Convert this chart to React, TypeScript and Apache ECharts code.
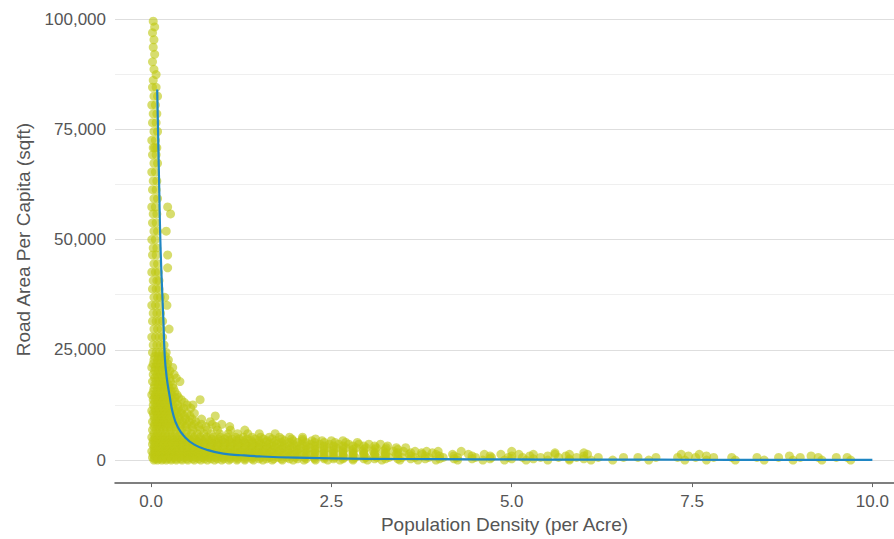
import React, { useEffect, useRef } from "react";
import * as echarts from "echarts";

// Scatter observations, grouped by approximate road-area value (sqft) -> density values (per acre)
const scatterRows: [number, number[]][] = [
  [99500, [0.03]], [98200, [0.05]], [96900, [0.02]], [95300, [0.04]], [93600, [0.03]],
  [92000, [0.05]], [90300, [0.02]], [88600, [0.04]], [87400, [0.07]], [86100, [0.03]],
  [84500, [0.02, 0.07]], [82500, [0.04, 0.09]], [80500, [0.01, 0.06]], [78500, [0.03, 0.08]],
  [76500, [0.02, 0.07]], [74500, [0.04, 0.09]], [72500, [0.01, 0.06]], [70800, [0.03, 0.08, 0.05]],
  [69200, [0.02, 0.07]], [67300, [0.04, 0.09]], [65300, [0.01, 0.06]], [63300, [0.03, 0.08]],
  [61300, [0.02, 0.07]], [59300, [0.04, 0.09]], [57400, [0.01, 0.06, 0.23]], [55800, [0.03, 0.08, 0.27]],
  [53800, [0.02, 0.07]], [51900, [0.04, 0.09, 0.21]], [50000, [0.01, 0.06]], [48100, [0.03, 0.08]],
  [46500, [0.02, 0.07, 0.23]], [44500, [0.04, 0.09]], [43600, [0.23]], [42600, [0.01, 0.06, 0.1]],
  [40700, [0.03, 0.08, 0.11]], [38800, [0.02, 0.07, 0.11]], [36900, [0.04, 0.09, 0.13, 0.19]],
  [35100, [0.01, 0.06, 0.11, 0.22]], [33300, [0.03, 0.08, 0.13]], [31500, [0.02, 0.07, 0.11, 0.16]],
  [29700, [0.04, 0.09, 0.14, 0.25]], [27900, [0.01, 0.06, 0.11, 0.16]], [26100, [0.03, 0.08, 0.13, 0.18]],
  [24400, [0.02, 0.07, 0.11, 0.16, 0.21]], [23500, [0.05, 0.1, 0.15, 0.2]],
  [22700, [0.04, 0.09, 0.14, 0.19, 0.24]], [21800, [0.03, 0.08, 0.13, 0.18, 0.23]],
  [21000, [0.01, 0.06, 0.11, 0.16, 0.22, 0.3]], [20200, [0.05, 0.1, 0.15, 0.2, 0.26]],
  [19400, [0.03, 0.08, 0.13, 0.18, 0.24, 0.32]], [18600, [0.05, 0.1, 0.15, 0.2, 0.26, 0.35]],
  [17800, [0.02, 0.07, 0.11, 0.16, 0.21, 0.27, 0.4]], [17000, [0.05, 0.1, 0.14, 0.19, 0.24, 0.3]],
  [16300, [0.04, 0.09, 0.14, 0.19, 0.25, 0.31]], [15500, [0.03, 0.08, 0.13, 0.18, 0.23, 0.28, 0.33]],
  [14800, [0.01, 0.06, 0.11, 0.16, 0.22, 0.28, 0.36]], [14200, [0.05, 0.1, 0.15, 0.2, 0.26, 0.33, 0.38]],
  [13700, [0.03, 0.08, 0.13, 0.18, 0.24, 0.3, 0.42, 0.68]], [13100, [0.05, 0.1, 0.15, 0.21, 0.27, 0.34, 0.46]],
  [12500, [0.03, 0.08, 0.13, 0.18, 0.24, 0.3, 0.37, 0.5, 0.58]],
  [11800, [0.05, 0.1, 0.15, 0.19, 0.24, 0.3, 0.38, 0.45, 0.55]],
  [11200, [0.01, 0.06, 0.11, 0.16, 0.21, 0.27, 0.34, 0.42]],
  [10600, [0.03, 0.08, 0.12, 0.17, 0.22, 0.28, 0.35, 0.42, 0.5, 0.6]],
  [10000, [0.04, 0.09, 0.14, 0.19, 0.25, 0.31, 0.38, 0.46, 0.54, 0.89]],
  [9300, [0.05, 0.1, 0.15, 0.2, 0.26, 0.33, 0.4, 0.48, 0.57, 0.7]],
  [8700, [0.02, 0.07, 0.12, 0.17, 0.23, 0.29, 0.36, 0.44, 0.53, 0.62, 0.82]],
  [8100, [0.05, 0.1, 0.15, 0.21, 0.27, 0.34, 0.42, 0.5, 0.6, 0.7, 0.85, 0.98]],
  [7600, [0.04, 0.09, 0.14, 0.2, 0.26, 0.33, 0.4, 0.48, 0.57, 0.66, 0.76, 0.9, 1.09]],
  [6800, [0.02, 0.07, 0.12, 0.17, 0.22, 0.28, 0.35, 0.42, 0.5, 0.58, 0.68, 0.78, 0.92, 1.1, 1.3]],
  [6000, [0.04, 0.09, 0.14, 0.2, 0.26, 0.33, 0.4, 0.48, 0.56, 0.64, 0.73, 0.83, 0.95, 1.07, 1.2, 1.34, 1.5, 1.72]],
  [5200, [0.01, 0.06, 0.11, 0.16, 0.22, 0.29, 0.36, 0.44, 0.52, 0.6, 0.68, 0.77, 0.86, 0.96, 1.06, 1.17, 1.28, 1.4, 1.52, 1.64, 1.78, 1.92, 2.1]],
  [4800, [0.05, 0.1, 0.16, 0.22, 0.29, 0.36, 0.43, 0.51, 0.59, 0.67, 0.75, 0.84, 0.93, 1.02, 1.12, 1.22, 1.33, 1.44, 1.56, 1.68, 1.81, 1.95, 2.1, 2.28]],
  [4400, [0.03, 0.08, 0.13, 0.19, 0.25, 0.32, 0.39, 0.47, 0.55, 0.63, 0.71, 0.8, 0.89, 0.98, 1.08, 1.18, 1.28, 1.39, 1.5, 1.61, 1.73, 1.85, 1.97, 2.1, 2.23, 2.37, 2.5, 2.66]],
  [4000, [0.05, 0.1, 0.16, 0.22, 0.28, 0.35, 0.42, 0.5, 0.58, 0.66, 0.74, 0.83, 0.92, 1.01, 1.1, 1.2, 1.3, 1.4, 1.5, 1.6, 1.7, 1.81, 1.92, 2.03, 2.15, 2.27, 2.4, 2.55, 2.7, 2.86]],
  [3600, [0.02, 0.07, 0.12, 0.18, 0.24, 0.3, 0.37, 0.44, 0.52, 0.6, 0.68, 0.76, 0.85, 0.94, 1.03, 1.12, 1.22, 1.32, 1.42, 1.52, 1.63, 1.74, 1.85, 1.97, 2.09, 2.21, 2.34, 2.47, 2.6, 2.74, 2.88, 3.02, 3.18]],
  [3200, [0.05, 0.1, 0.16, 0.22, 0.28, 0.35, 0.42, 0.5, 0.58, 0.66, 0.74, 0.83, 0.92, 1.01, 1.1, 1.2, 1.3, 1.4, 1.5, 1.6, 1.7, 1.81, 1.92, 2.03, 2.15, 2.27, 2.4, 2.53, 2.66, 2.8, 2.95, 3.1, 3.28]],
  [2800, [0.04, 0.09, 0.14, 0.2, 0.27, 0.34, 0.41, 0.49, 0.57, 0.65, 0.73, 0.82, 0.91, 1.0, 1.1, 1.2, 1.3, 1.4, 1.5, 1.61, 1.72, 1.83, 1.95, 2.07, 2.19, 2.31, 2.44, 2.57, 2.7, 2.84, 2.98, 3.12, 3.26, 3.4, 3.53]],
  [2400, [0.05, 0.1, 0.16, 0.22, 0.28, 0.35, 0.42, 0.5, 0.58, 0.66, 0.74, 0.83, 0.92, 1.01, 1.1, 1.2, 1.3, 1.4, 1.5, 1.6, 1.7, 1.81, 1.92, 2.03, 2.15, 2.27, 2.4, 2.53, 2.66, 2.8, 2.95, 3.1, 3.25, 3.42]],
  [2000, [0.01, 0.06, 0.11, 0.16, 0.22, 0.29, 0.36, 0.44, 0.52, 0.6, 0.68, 0.77, 0.86, 0.95, 1.05, 1.15, 1.25, 1.35, 1.45, 1.56, 1.67, 1.78, 1.9, 2.02, 2.14, 2.27, 2.4, 2.53, 2.66, 2.8, 2.94, 3.08, 3.22, 3.36, 3.5, 3.66, 3.82, 3.98, 4.3, 5.0]],
  [1650, [0.05, 0.1, 0.16, 0.22, 0.28, 0.35, 0.42, 0.5, 0.58, 0.66, 0.74, 0.83, 0.92, 1.01, 1.1, 1.2, 1.3, 1.4, 1.5, 1.6, 1.7, 1.81, 1.92, 2.03, 2.15, 2.27, 2.4, 2.53, 2.66, 2.8, 2.95, 3.1, 3.25, 3.42, 3.6, 3.75, 3.9, 5.6, 6.0]],
  [1300, [0.03, 0.08, 0.13, 0.19, 0.25, 0.32, 0.39, 0.47, 0.55, 0.63, 0.72, 0.81, 0.9, 1.0, 1.1, 1.2, 1.3, 1.41, 1.52, 1.63, 1.75, 1.87, 1.99, 2.12, 2.25, 2.38, 2.52, 2.66, 2.8, 2.95, 3.1, 3.25, 3.4, 3.58, 3.76, 3.95, 4.18, 4.4, 4.62, 4.85, 5.1, 5.3, 5.6, 5.8, 6.05, 7.35, 7.6]],
  [950, [0.05, 0.1, 0.16, 0.22, 0.28, 0.35, 0.42, 0.5, 0.58, 0.66, 0.74, 0.83, 0.92, 1.01, 1.1, 1.2, 1.3, 1.4, 1.5, 1.6, 1.7, 1.81, 1.92, 2.03, 2.15, 2.27, 2.4, 2.53, 2.66, 2.8, 2.95, 3.1, 3.25, 3.42, 3.6, 3.8, 4.0, 4.2, 4.45, 4.7, 5.0, 5.25, 5.5, 5.75, 6.0, 7.45, 7.7, 8.85, 9.15]],
  [600, [0.02, 0.07, 0.12, 0.18, 0.24, 0.31, 0.38, 0.46, 0.54, 0.62, 0.71, 0.8, 0.89, 0.99, 1.09, 1.19, 1.3, 1.41, 1.52, 1.64, 1.76, 1.88, 2.0, 2.13, 2.26, 2.4, 2.54, 2.68, 2.83, 2.98, 3.13, 3.3, 3.48, 3.66, 3.85, 4.05, 4.25, 4.5, 4.72, 4.95, 5.15, 5.4, 5.65, 5.9, 6.2, 6.55, 6.75, 7.0, 7.3, 7.55, 7.8, 8.05, 8.4, 8.7, 9.0, 9.25, 9.5, 9.65]],
  [300, [0.05, 0.1, 0.16, 0.22, 0.28, 0.35, 0.42, 0.5, 0.58, 0.66, 0.74, 0.83, 0.92, 1.01, 1.1, 1.2, 1.3, 1.4, 1.5, 1.6, 1.7, 1.81, 1.92, 2.03, 2.15, 2.27, 2.4, 2.53, 2.66, 2.8, 2.95, 3.1, 3.25, 3.42, 3.6, 3.8, 4.0, 4.2, 4.45, 4.7, 5.0, 5.3, 5.8, 6.0]],
  [0, [0.04, 0.09, 0.15, 0.21, 0.28, 0.35, 0.43, 0.51, 0.6, 0.69, 0.78, 0.88, 0.98, 1.08, 1.19, 1.3, 1.42, 1.55, 1.68, 1.82, 1.97, 2.12, 2.28, 2.45, 2.62, 2.8, 3.0, 3.2, 3.45, 3.7, 3.95, 4.25, 4.6, 4.9, 5.2, 5.5, 5.8, 6.1, 6.4, 6.9, 7.4, 7.7, 8.1, 8.5, 8.9, 9.3, 9.7]],
];

// Fitted trend curve: [density, road area]
const curveX = [0.085, 0.095, 0.105, 0.115, 0.125, 0.14, 0.155, 0.17, 0.19, 0.215, 0.26, 0.3, 0.37, 0.47, 0.6, 0.78, 1.0, 1.25, 1.5, 2.0, 2.5, 3.0, 4.0, 5.0, 6.0, 7.0, 8.0, 9.0, 10.0];
const curveY = [84000, 76000, 68000, 60000, 52000, 44000, 38000, 32000, 23500, 19000, 14300, 10800, 7500, 5200, 3500, 2300, 1450, 1100, 850, 550, 400, 300, 210, 150, 110, 90, 70, 60, 50];

const xTicks = [0, 2.5, 5, 7.5, 10];
const yLabelStep = 25000;
const yGridStep = 12500;

const xTitle = "Population Density (per Acre)";
const yTitle = "Road Area Per Capita (sqft)";

export default function App() {
  const ref = useRef<HTMLDivElement>(null);
  useEffect(() => {
    document.body.style.margin = "0";
    if (!ref.current) return;
    const chart = echarts.init(ref.current, undefined, { renderer: "svg" });
    const points: number[][] = [];
    scatterRows.forEach(([y, xs]) => xs.forEach((x) => points.push([x, y])));
    const curve = curveX.map((x, i) => [x, curveY[i]]);
    const font = "'Liberation Sans', Arial, Helvetica, sans-serif";
    chart.setOption({
      animation: false,
      backgroundColor: "#ffffff",
      grid: { left: 115, right: 0, top: 19, bottom: 76, containLabel: false },
      xAxis: {
        type: "value",
        min: -0.5,
        max: 10.3,
        offset: 23,
        name: xTitle,
        nameLocation: "middle",
        nameGap: 29,
        nameTextStyle: { color: "#555", fontSize: 19, fontFamily: font },
        axisLine: { show: true, onZero: false, lineStyle: { color: "#555", width: 1.5 } },
        axisTick: { show: true, length: 4, lineStyle: { color: "#666" }, customValues: xTicks },
        axisLabel: {
          color: "#555",
          fontSize: 17,
          fontFamily: font,
          margin: 10,
          customValues: xTicks,
          formatter: (v: number) => v.toFixed(1),
        },
        splitLine: { show: false },
      },
      yAxis: {
        type: "value",
        min: 0,
        max: 100000,
        interval: yGridStep,
        name: yTitle,
        nameLocation: "middle",
        nameGap: 82,
        nameTextStyle: { color: "#555", fontSize: 19, fontFamily: font },
        axisLine: { show: false },
        axisTick: { show: false },
        axisLabel: {
          color: "#555",
          fontSize: 17,
          fontFamily: font,
          margin: 9,
          formatter: (v: number) => (v % yLabelStep === 0 ? v.toLocaleString("en-US") : ""),
        },
        splitLine: { show: true, lineStyle: { color: ["#dedede", "#efefef"], width: 1 } },
      },
      series: [
        {
          type: "scatter",
          data: points,
          symbolSize: 9,
          itemStyle: { color: "#bec814", opacity: 0.62 },
          z: 2,
        },
        {
          type: "line",
          data: curve,
          smooth: true,
          showSymbol: false,
          lineStyle: { color: "#1f86c4", width: 2.2 },
          z: 3,
        },
      ],
    });
    return () => chart.dispose();
  }, []);
  return <div ref={ref} style={{ width: 894, height: 539 }} />;
}
